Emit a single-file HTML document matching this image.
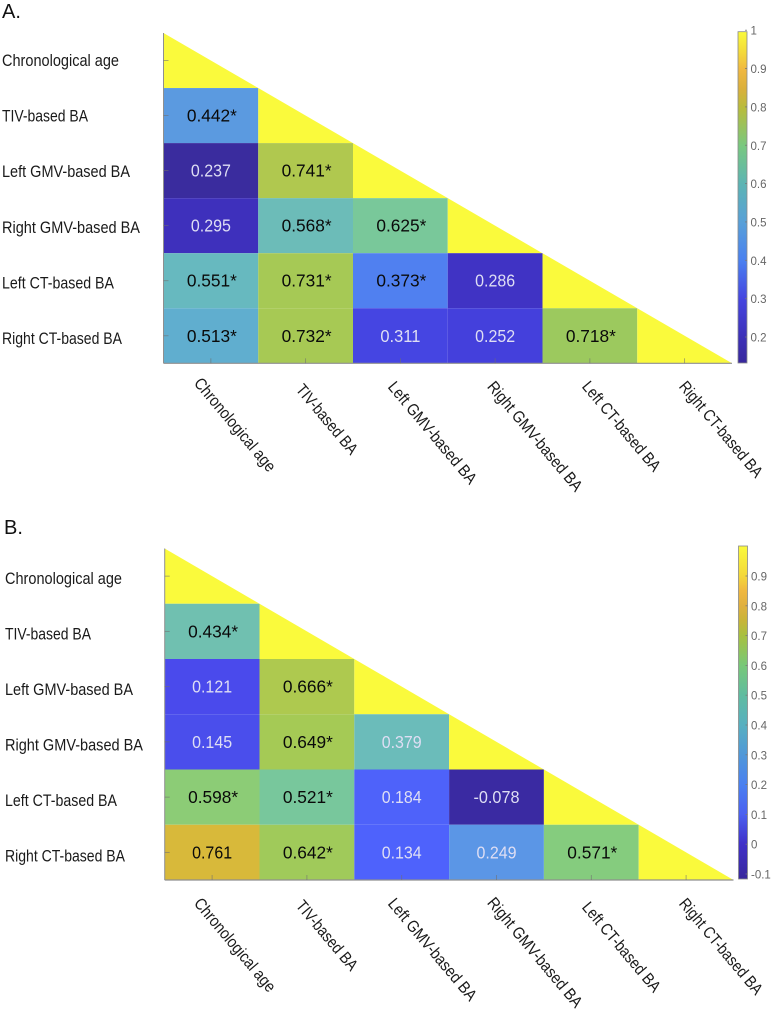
<!DOCTYPE html>
<html lang="en">
<head>
<meta charset="utf-8">
<title>Correlation matrices of brain age estimates</title>
<style>
html,body{margin:0;padding:0;background:#fff;}
svg{display:block;font-family:"Liberation Sans",sans-serif;}
</style>
</head>
<body>
<svg id="figure" xmlns="http://www.w3.org/2000/svg" width="771" height="1010" viewBox="0 0 771 1010">
  <rect x="0" y="0" width="771" height="1010" fill="#fff"/>
  <text x="2" y="18" font-size="20" fill="#111">A.</text>
  <text x="4" y="534" font-size="20" fill="#111">B.</text>
</svg>
<script>
// ---- data ----
const categories = ["Chronological age", "TIV-based BA", "Left GMV-based BA", "Right GMV-based BA", "Left CT-based BA", "Right CT-based BA"];

const valuesA = [
  [1],
  [0.442, 1],
  [0.237, 0.741, 1],
  [0.295, 0.568, 0.625, 1],
  [0.551, 0.731, 0.373, 0.286, 1],
  [0.513, 0.732, 0.311, 0.252, 0.718, 1]
];
const significantA = [
  [0],
  [1, 0],
  [0, 1, 0],
  [0, 1, 1, 0],
  [1, 1, 1, 0, 0],
  [1, 1, 0, 0, 1, 0]
];
const valuesB = [
  [1],
  [0.434, 1],
  [0.121, 0.666, 1],
  [0.145, 0.649, 0.379, 1],
  [0.598, 0.521, 0.184, -0.078, 1],
  [0.761, 0.642, 0.134, 0.249, 0.571, 1]
];
const significantB = [
  [0],
  [1, 0],
  [0, 1, 0],
  [0, 1, 0, 0],
  [1, 1, 0, 0, 0],
  [0, 1, 0, 0, 1, 0]
];
const colorbarTicksA = [0.2, 0.3, 0.4, 0.5, 0.6, 0.7, 0.8, 0.9, 1];
const colorbarTickLabelsA = ["0.2", "0.3", "0.4", "0.5", "0.6", "0.7", "0.8", "0.9", "1"];
const colorbarTicksB = [-0.1, 0, 0.1, 0.2, 0.3, 0.4, 0.5, 0.6, 0.7, 0.8, 0.9];
const colorbarTickLabelsB = ["-0.1", "0", "0.1", "0.2", "0.3", "0.4", "0.5", "0.6", "0.7", "0.8", "0.9"];

// ---- colour scales (value, colour) ----
const cellScaleA = [[0.132,"#35289a"],[0.237,"#3a2c9e"],[0.252,"#4440dc"],[0.286,"#4033c4"],[0.295,"#3e30bc"],[0.311,"#4545e2"],[0.373,"#5080f0"],[0.442,"#5b9ae0"],[0.513,"#60aecf"],[0.551,"#67b9bf"],[0.568,"#6cbcb8"],[0.625,"#79c89a"],[0.718,"#9cc95e"],[0.731,"#a6c955"],[0.741,"#b0c84f"],[1,"#fafa3c"]];
const cellScaleB = [[-0.117,"#352a9a"],[-0.078,"#3a2aa2"],[0.121,"#4a4aec"],[0.134,"#4e62fc"],[0.145,"#4a4eec"],[0.184,"#4e62fa"],[0.249,"#5b96e6"],[0.379,"#6bbcba"],[0.434,"#70c0b0"],[0.521,"#78c79c"],[0.571,"#85cc7e"],[0.598,"#8ccc76"],[0.642,"#a0ca5a"],[0.649,"#a5ca55"],[0.666,"#aec94f"],[0.761,"#d8b93a"],[1,"#fafa3c"]];
const barScaleA = [[0.132,"#38289c"],[0.2,"#3c30b8"],[0.3,"#4545e0"],[0.4,"#4a80f0"],[0.5,"#58a0d8"],[0.6,"#5cb4b4"],[0.7,"#78c880"],[0.8,"#b8bc3c"],[0.85,"#dab03c"],[0.9,"#f0b840"],[0.95,"#f4dc3a"],[1,"#fafa3c"]];
const barScaleB = [[-0.117,"#38289c"],[0,"#4030c8"],[0.1,"#4a60f0"],[0.2,"#4a80f0"],[0.3,"#5098d8"],[0.4,"#58b0c0"],[0.5,"#60bca0"],[0.6,"#78c878"],[0.7,"#a8c040"],[0.75,"#c8b438"],[0.8,"#e0b040"],[0.85,"#f0b840"],[0.9,"#f4d83a"],[1,"#fafa3c"]];

// ---- layout ----
const yLabelWidths = [117, 86, 128, 138, 112, 120];
const xLabelCentersX = [235, 327, 432.5, 535, 621.5, 721];
const panelLayouts = [
  {id:"a", values:valuesA, sig:significantA, scale:cellScaleA, barScale:barScaleA, ticks:colorbarTicksA, tickLabels:colorbarTickLabelsA,
   x0:163.5, x1:732, y0:33, y1:363.3, labelX:2, labelY:66, labelDy:55.6,
   xLabelDrop:[61.5,56,69.5,73,63,66],
   barX:738, barW:9, barTop:31.7, barBottom:363, barMin:0.132, barMax:1, barRefV:0.2, barRefY:337, barPerUnit:383.5},
  {id:"b", values:valuesB, sig:significantB, scale:cellScaleB, barScale:barScaleB, ticks:colorbarTicksB, tickLabels:colorbarTickLabelsB,
   x0:164.7, x1:733.5, y0:548.5, y1:880, labelX:5, labelY:584, labelDy:55.5,
   xLabelDrop:[65,55.5,69.5,72.5,67,66.5],
   barX:738.5, barW:9, barTop:546, barBottom:879, barMin:-0.117, barMax:1, barRefV:-0.1, barRefY:874, barPerUnit:298}
];

const NS = "http://www.w3.org/2000/svg";
const svg = document.getElementById("figure");

function mk(tag, attrs, parent) {
  const el = document.createElementNS(NS, tag);
  for (const k in attrs) el.setAttribute(k, attrs[k]);
  parent.appendChild(el);
  return el;
}
function hexToRgb(h) {
  return [parseInt(h.slice(1,3),16), parseInt(h.slice(3,5),16), parseInt(h.slice(5,7),16)];
}
function colorAt(scale, v) {
  if (v <= scale[0][0]) return scale[0][1];
  for (let i = 1; i < scale.length; i++) {
    if (v <= scale[i][0]) {
      const t = (v - scale[i-1][0]) / (scale[i][0] - scale[i-1][0]);
      const a = hexToRgb(scale[i-1][1]), b = hexToRgb(scale[i][1]);
      return "rgb(" + a.map((c, j) => Math.round(c + (b[j] - c) * t)).join(",") + ")";
    }
  }
  return scale[scale.length-1][1];
}

const defs = mk("defs", {}, svg);

panelLayouts.forEach(function (p) {
  const n = categories.length;
  const xAt = i => p.x0 + (p.x1 - p.x0) * i / n;
  const yAt = i => p.y0 + (p.y1 - p.y0) * i / n;
  const barY = v => p.barRefY - (v - p.barRefV) * p.barPerUnit;

  const g = mk("g", {}, svg);
  
  

  // cells and diagonal triangles
  p.values.forEach(function (row, r) {
    row.forEach(function (v, c) {
      const fill = colorAt(p.scale, v);
      if (r === c) {
        const tri = mk("polygon", {
          points: xAt(c) + "," + yAt(r) + " " + xAt(c+1) + "," + yAt(r+1) + " " + xAt(c) + "," + yAt(r+1),
          fill: fill
        }, g);
        
        
      } else {
        const cell = mk("rect", {
          x: xAt(c), y: yAt(r), width: xAt(c+1) - xAt(c), height: yAt(r+1) - yAt(r), fill: fill
        }, g);
        
        
      }
    });
  });

  // cell value text
  p.values.forEach(function (row, r) {
    row.forEach(function (v, c) {
      if (r === c) return;
      const star = p.sig[r][c] === 1;
      const dark = star || v > 0.7;
      const label = v.toFixed(3) + (star ? "*" : "");
      const t = mk("text", {
        x: (xAt(c) + xAt(c+1)) / 2 + (star ? 1 : 0),
        y: (yAt(r) + yAt(r+1)) / 2 + 6,
        "text-anchor": "middle",
        "font-size": 17.5,
        fill: dark ? "#0a0a0a" : "#dedef4",
        textLength: star ? 50 : (v < 0 ? 46 : 40),
        lengthAdjust: "spacingAndGlyphs"
      }, g);
      t.textContent = label;
      
      
    });
  });

  // axes
  const axisY = mk("line", {x1:p.x0, y1:p.y0, x2:p.x0, y2:p.y1, stroke:"#8f8f8f", "stroke-width":1}, g);
  
  
  const axisX = mk("line", {x1:p.x0, y1:p.y1, x2:p.x1, y2:p.y1, stroke:"#8f8f8f", "stroke-width":1.2}, g);
  
  

  categories.forEach(function (name, i) {
    const cy = (yAt(i) + yAt(i+1)) / 2;
    const cx = (xAt(i) + xAt(i+1)) / 2;

    const yt = mk("line", {x1:p.x0, y1:cy, x2:p.x0+5, y2:cy, stroke:"#6f6f6f", "stroke-opacity":0.7, "stroke-width":0.8}, g);
    
    
    const xt = mk("line", {x1:cx, y1:p.y1, x2:cx, y2:p.y1-5, stroke:"#6f6f6f", "stroke-opacity":0.7, "stroke-width":0.8}, g);
    
    

    const yl = mk("text", {
      x: p.labelX, y: p.labelY + p.labelDy * i,
      "font-size": 16.5, fill: "#1a1a1a",
      textLength: yLabelWidths[i], lengthAdjust: "spacingAndGlyphs"
    }, g);
    yl.textContent = name;
    
    

    const lx = xLabelCentersX[i] - 4.2;
    const ly = p.y1 + p.xLabelDrop[i] + 3.5;
    const xl = mk("text", {
      x: lx, y: ly,
      "text-anchor": "middle",
      transform: "rotate(50 " + lx + " " + ly + ")",
      "font-size": 16.5, fill: "#1a1a1a",
      textLength: yLabelWidths[i], lengthAdjust: "spacingAndGlyphs"
    }, g);
    xl.textContent = name;
    
    
  });

  // colorbar
  const grad = mk("linearGradient", {id:"bar-grad-" + p.id, x1:0, y1:1, x2:0, y2:0}, defs);
  p.barScale.forEach(function (s) {
    mk("stop", {
      offset: (s[0] - p.barMin) / (p.barMax - p.barMin),
      "stop-color": s[1]
    }, grad);
  });
  const bar = mk("rect", {
    x: p.barX, y: p.barTop, width: p.barW, height: p.barBottom - p.barTop,
    fill: "url(#bar-grad-" + p.id + ")", stroke: "#8a8a8a", "stroke-width": 0.8
  }, g);
  
  

  p.ticks.forEach(function (v, i) {
    const y = barY(v);
    const tk = mk("line", {x1:p.barX+p.barW-2, y1:y, x2:p.barX+p.barW, y2:y, stroke:"#777", "stroke-width":0.8}, g);
    
    
    const tl = mk("text", {x:p.barX+p.barW+3.5, y:y+4.5, "font-size":11.5, fill:"#666"}, g);
    tl.textContent = p.tickLabels[i];
    
    
  });
});
</script>
</body>
</html>
